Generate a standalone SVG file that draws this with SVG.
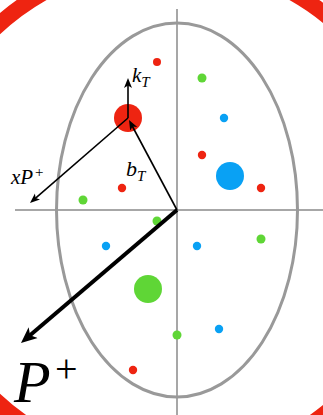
<svg xmlns="http://www.w3.org/2000/svg" width="323" height="415" viewBox="0 0 323 415">
<style>
.axis{stroke:#8a8a8a;stroke-width:1.5;fill:none}
.ell{stroke:#999;stroke-width:3;fill:none}
.r{fill:#ee2411}.g{fill:#5fd636}.b{fill:#09a1f4}
.arr{stroke:#000;stroke-width:1.6;fill:none}
.thick{stroke:#000;stroke-width:4;fill:none}
.lbl{font-family:"Liberation Serif","Times New Roman",serif;font-style:italic;fill:#000}
.sup{font-family:"Liberation Serif","Times New Roman",serif;font-style:normal;fill:#000}
</style>
<defs>
<marker id="ah" markerUnits="userSpaceOnUse" markerWidth="12" markerHeight="10" viewBox="0 -5 12 10" refX="6" refY="0" orient="auto">
<path d="M0,-4 L10,0 L0,4 L2.5,0 z" fill="#000"/>
</marker>
<marker id="ahT" markerUnits="userSpaceOnUse" markerWidth="18" markerHeight="16" viewBox="0 -8 18 16" refX="6" refY="0" orient="auto">
<path d="M0,-7 L16,0 L0,7 L4,0 z" fill="#000"/>
</marker>
</defs>
<circle id="ring" cx="168" cy="214" r="254" fill="none" stroke="#ee2411" stroke-width="16"/>
<g id="frame">
<line class="axis" x1="177" y1="9" x2="177" y2="415"/>
<line class="axis" x1="15" y1="210" x2="323" y2="210"/>
<ellipse class="ell" cx="177" cy="210" rx="120.5" ry="187"/>
</g>
<g id="particles">
<circle class="r" cx="157" cy="62" r="4"/>
<circle class="g" cx="202" cy="78" r="4.5"/>
<circle class="b" cx="224" cy="118" r="4.2"/>
<circle class="r" cx="128" cy="118" r="14"/>
<circle class="r" cx="202" cy="155" r="4.2"/>
<circle class="b" cx="230" cy="176" r="14"/>
<circle class="r" cx="261" cy="188" r="4.2"/>
<circle class="r" cx="122" cy="188" r="4.2"/>
<circle class="g" cx="83" cy="200" r="4.5"/>
<circle class="g" cx="157" cy="221" r="4.5"/>
<circle class="b" cx="106" cy="246" r="4.2"/>
<circle class="b" cx="197" cy="246" r="4.2"/>
<circle class="g" cx="261" cy="239" r="4.5"/>
<circle class="g" cx="148" cy="289" r="14"/>
<circle class="g" cx="177" cy="335" r="4.5"/>
<circle class="b" cx="219" cy="329" r="4.2"/>
<circle class="r" cx="133" cy="370" r="4.2"/>
</g>
<g id="connectors">
<line class="arr" x1="128" y1="118" x2="128" y2="82" marker-end="url(#ah)"/>
<line class="arr" x1="177" y1="210" x2="130.9" y2="123.5" marker-end="url(#ah)"/>
<line class="arr" x1="128" y1="118" x2="33" y2="200.4" marker-end="url(#ah)"/>
<line class="thick" x1="177" y1="210" x2="28.6" y2="336.5" marker-end="url(#ahT)"/>
</g>
<g id="labels">
<text class="lbl" x="132" y="82" font-size="21">k<tspan font-size="15" dy="5">T</tspan></text>
<text class="lbl" x="126" y="176" font-size="22">b<tspan font-size="15" dy="5">T</tspan></text>
<text class="lbl" x="11" y="184" font-size="21">xP</text>
<text class="sup" x="35" y="177" font-size="15">+</text>
<text class="lbl" x="14" y="402" font-size="60">P</text>
<text class="sup" x="55" y="382" font-size="40">+</text>
</g>
</svg>
